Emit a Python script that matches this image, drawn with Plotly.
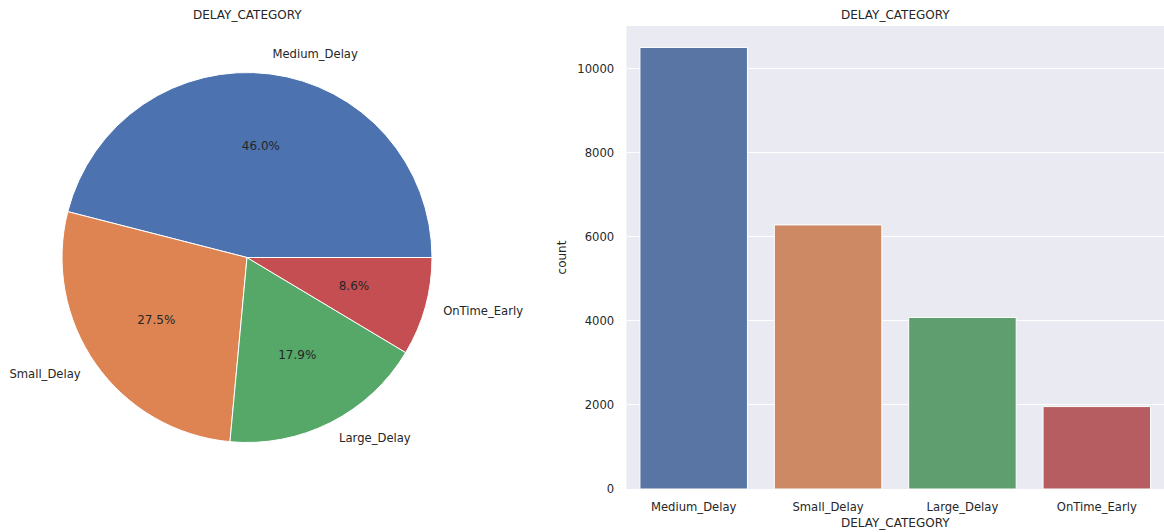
import math
import plotly.graph_objects as go

categories = ["Medium_Delay", "Small_Delay", "Large_Delay", "OnTime_Early"]
counts = [10500, 6280, 4080, 1960]
pie_colors = ["#4c72b0", "#dd8452", "#55a868", "#c44e52"]
bar_colors = ["#5975a4", "#cc8963", "#5f9e6e", "#b55d60"]
y_ticks = [0, 2000, 4000, 6000, 8000, 10000]

TXT = "#262626"
FONT = "DejaVu Sans"

total = sum(counts)
pcts = [c / total for c in counts]
# slice mid-angles and widths (degrees, counterclockwise from 3 o'clock, matplotlib convention)
widths = [360 * p for p in pcts]
mid_angles = []
acc = 0.0
for w in widths:
    mid_angles.append(acc + w / 2)
    acc += w
label_pos = ["middle right" if math.cos(math.radians(a)) >= 0 else "middle left" for a in mid_angles]
pct_text = [f"{100 * p:.1f}%" for p in pcts]

R_MAX = 1.25  # radial range so that labels at 1.1 R fit
cx, cy, rad = 247, 257.5, 185 * R_MAX
pie_dom = dict(x=[(cx - rad) / 1164, (cx + rad) / 1164], y=[1 - (cy + rad) / 532, 1 - (cy - rad) / 532])

fig = go.Figure()

# pie wedges
fig.add_trace(go.Barpolar(
    r=[1] * len(categories), theta=mid_angles, width=widths, text=categories,
    marker=dict(color=pie_colors, line=dict(color="white", width=1)),
    showlegend=False, hovertemplate="%{text}<extra></extra>", subplot="polar",
))
# percentages at 0.6 R
fig.add_trace(go.Scatterpolar(
    r=[0.6] * len(categories), theta=mid_angles, mode="text", text=pct_text,
    textposition="middle center", textfont=dict(family=FONT, size=12, color=TXT),
    showlegend=False, hoverinfo="skip", subplot="polar", cliponaxis=False,
))
# labels at 1.1 R
fig.add_trace(go.Scatterpolar(
    r=[1.1] * len(categories), theta=mid_angles, mode="text", text=categories,
    textposition=label_pos, textfont=dict(family=FONT, size=11.6, color=TXT),
    showlegend=False, hoverinfo="skip", subplot="polar", cliponaxis=False,
))

fig.add_trace(go.Bar(
    x=categories, y=counts, marker=dict(color=bar_colors, line=dict(color="white", width=1)),
    width=0.8, showlegend=False, xaxis="x", yaxis="y",
))

fig.update_layout(
    width=1164, height=532,
    margin=dict(l=0, r=0, t=0, b=0),
    paper_bgcolor="white", plot_bgcolor="#eaeaf2",
    font=dict(family=FONT, color=TXT, size=11.5),
    polar=dict(domain=pie_dom, bgcolor="rgba(0,0,0,0)", bargap=0,
               radialaxis=dict(range=[0, R_MAX], visible=False, showgrid=False, showline=False,
                               showticklabels=False, ticks=""),
               angularaxis=dict(rotation=0, direction="counterclockwise", visible=False,
                                showgrid=False, showline=False, showticklabels=False, ticks="")),
    xaxis=dict(domain=[626.5 / 1164, 1.0], range=[-0.5, 3.5], showgrid=False, zeroline=False,
               showline=False, ticks="outside", ticklen=7, tickcolor="rgba(0,0,0,0)",
               tickfont=dict(size=11.6), automargin=False,
               title=dict(text="DELAY_CATEGORY", font=dict(size=12), standoff=5)),
    yaxis=dict(domain=[1 - 489 / 532, 1 - 26 / 532], range=[0, 11010], tickvals=y_ticks,
               ticktext=[str(v) for v in y_ticks], automargin=False,
               showgrid=True, gridcolor="white", gridwidth=1, zeroline=False, showline=False,
               ticks="outside", ticklen=9, tickcolor="rgba(0,0,0,0)", tickfont=dict(size=11.6),
               title=dict(text="count", font=dict(size=12), standoff=8)),
    annotations=[
        dict(text="DELAY_CATEGORY", x=247 / 1164, y=1 - 15 / 532, xref="paper", yref="paper",
             showarrow=False, font=dict(size=12, color=TXT), xanchor="center", yanchor="middle"),
        dict(text="DELAY_CATEGORY", x=895 / 1164, y=1 - 15 / 532, xref="paper", yref="paper",
             showarrow=False, font=dict(size=12, color=TXT), xanchor="center", yanchor="middle"),
    ],
)

fig.write_html("out.html", config={"displayModeBar": False},
               post_script="document.body.style.margin='0';")
